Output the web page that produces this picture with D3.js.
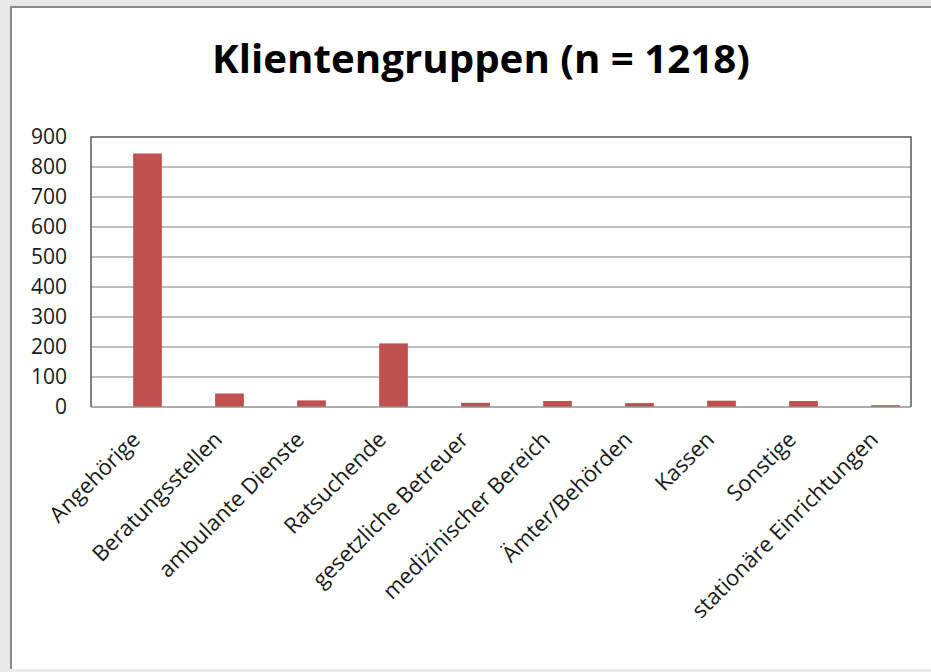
<!DOCTYPE html>
<meta charset="utf-8">
<script src="https://d3js.org/d3.v7.min.js"></script>
<style>
  body { margin: 0; background: #e9e9e9; }
  text { font-family: "Open Sans", "Noto Sans", sans-serif; fill: #1a1a1a; }
</style>
<div id="chart"></div>
<script>
    // data
    var categories = ["Angehörige", "Beratungsstellen", "ambulante Dienste", "Ratsuchende",
                      "gesetzliche Betreuer", "medizinischer Bereich", "Ämter/Behörden",
                      "Kassen", "Sonstige", "stationäre Einrichtungen"];
    var counts = [845, 45, 22, 212, 14, 20, 13, 21, 20, 6];
    var yTicks = [0, 100, 200, 300, 400, 500, 600, 700, 800, 900];
    var title = "Klientengruppen (n = 1218)";

    var W = 931, H = 672;
    var plot = {left: 91, right: 911, top: 137, bottom: 407};

    var svg = d3.select("#chart").append("svg")
        .attr("width", W)
        .attr("height", H);

    // white chart sheet with grey edge on the left and top
    svg.append("rect")
        .attr("x", 11).attr("y", 7)
        .attr("width", W).attr("height", 662)
        .attr("fill", "#fff");
    svg.append("path")
        .attr("d", "M11,669V7H" + W)
        .attr("fill", "none")
        .attr("stroke", "#8a8a8a")
        .attr("stroke-width", 2);

    svg.append("text")
        .attr("x", 481).attr("y", 73)
        .attr("text-anchor", "middle")
        .attr("font-size", 40)
        .attr("font-weight", "bold")
        .attr("textLength", 538)
        .attr("lengthAdjust", "spacingAndGlyphs")
        .style("fill", "#000")
        .text(title);

    var y = d3.scaleLinear()
        .domain([0, 900])
        .range([plot.bottom, plot.top]);

    // bars sit a bit right of the frame in the original
    var x = d3.scaleBand()
        .domain(categories)
        .range([plot.left + 15.5, plot.right + 15.5])
        .paddingInner(0.65)
        .paddingOuter(0.325);

    // gridlines
    svg.append("g")
        .selectAll("line")
        .data(yTicks.filter(d => d > 0 && d < 900))
        .join("line")
          .attr("x1", plot.left).attr("x2", plot.right)
          .attr("y1", d => y(d)).attr("y2", d => y(d))
          .attr("stroke", "#a8a8a8")
          .attr("stroke-width", 1.5);

    // plot frame
    svg.append("path")
        .attr("d", "M" + plot.left + "," + plot.bottom + "V" + plot.top + "H" + plot.right + "V" + plot.bottom)
        .attr("fill", "none")
        .attr("stroke", "#5a5a5a")
        .attr("stroke-width", 1.5);

    // y axis labels only
    var yAxis = svg.append("g")
        .attr("transform", "translate(" + 67 + ",0)")
        .call(d3.axisLeft(y).tickValues(yTicks).tickSize(0).tickPadding(0));
    yAxis.select(".domain").remove();
    yAxis.selectAll("text")
        .attr("font-size", 21)
        .attr("font-family", null);

    // bars
    svg.append("g")
        .selectAll("rect")
        .data(counts)
        .join("rect")
          .attr("x", (d, i) => x(categories[i]))
          .attr("y", d => y(d))
          .attr("width", x.bandwidth())
          .attr("height", d => y(0) - y(d))
          .attr("fill", "#c0504d");

    // x axis line
    svg.append("line")
        .attr("x1", plot.left).attr("x2", plot.right)
        .attr("y1", plot.bottom).attr("y2", plot.bottom)
        .attr("stroke", "#909090")
        .attr("stroke-width", 1.5);

    // rotated category labels
    svg.append("g")
        .selectAll("text")
        .data(categories)
        .join("text")
          .attr("transform", d => "translate(" + (x(d) + x.bandwidth() / 2 - 6) + "," + 441 + ") rotate(-45)")
          .attr("text-anchor", "end")
          .attr("font-size", 22)
          .text(d => d);
</script>
